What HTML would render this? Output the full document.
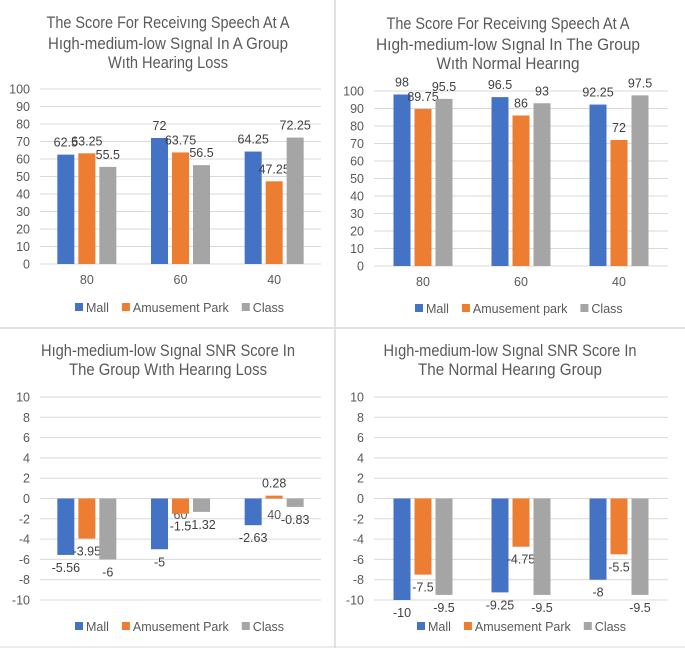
<!DOCTYPE html>
<html><head><meta charset="utf-8"><style>
html,body{margin:0;padding:0;background:#fff;}
svg{display:block;font-family:"Liberation Sans",sans-serif;}
</style></head><body>
<svg id="c" width="685" height="648" viewBox="0 0 685 648" xmlns="http://www.w3.org/2000/svg">
<rect x="0" y="0" width="685" height="648" fill="#fff"/>
<line x1="335" y1="0" x2="335" y2="648" stroke="#d9d9d9" stroke-width="1.5"/>
<line x1="0" y1="328" x2="685" y2="328" stroke="#d9d9d9" stroke-width="1.5"/>
<line x1="0" y1="647" x2="685" y2="647" stroke="#d9d9d9" stroke-width="1"/>
</svg>
<script>
const categories = ["80","60","40"];
const seriesNames1 = ["Mall","Amusement Park","Class"];
const seriesNames2 = ["Mall","Amusement park","Class"];
const yTicks1 = [0,10,20,30,40,50,60,70,80,90,100];
const yTicks2 = [-10,-8,-6,-4,-2,0,2,4,6,8,10];
const tlMall = [62.5,72,64.25];
const tlAmuse = [63.25,63.75,47.25];
const tlClass = [55.5,56.5,72.25];
const trMall = [98,96.5,92.25];
const trAmuse = [89.75,86,72];
const trClass = [95.5,93,97.5];
const blMall = [-5.56,-5,-2.63];
const blAmuse = [-3.95,-1.5,0.28];
const blClass = [-6,-1.32,-0.83];
const brMall = [-10,-9.25,-8];
const brAmuse = [-7.5,-4.75,-5.5];
const brClass = [-9.5,-9.5,-9.5];

const colors = ["#4472c4","#ed7d31","#a5a5a5"];
const NS = "http://www.w3.org/2000/svg";
const svg = document.getElementById('c');
function mk(tag, attrs, parent){const e=document.createElementNS(NS,tag);for(const k in attrs)e.setAttribute(k,attrs[k]);(parent||svg).appendChild(e);return e;}

function drawChart(cfg){
  const g = mk('g',{});
  
  
  cfg.title.forEach((t,i)=>{
    const tx = mk('text',{x:cfg.tcx,y:cfg.tys[i],'text-anchor':'middle','font-size':'17',fill:'#595959',textLength:t[1],lengthAdjust:'spacingAndGlyphs'},g);
    tx.textContent = t[0];
    
    
  });
  const vmin = cfg.ticks[0], vmax = cfg.ticks[cfg.ticks.length-1];
  const y = v => cfg.yMinPx + (v - vmin) * (cfg.yMaxPx - cfg.yMinPx) / (vmax - vmin);
  cfg.ticks.forEach(t=>{
    const ln = mk('line',{x1:cfg.x0,x2:cfg.x1,y1:y(t),y2:y(t),stroke:'#d9d9d9','stroke-width':1},g);
    
    
    const tl = mk('text',{x:cfg.x0-10,y:y(t)+4.5,'text-anchor':'end','font-size':'12.5',fill:'#595959'},g);
    tl.textContent = String(t);
    
    
  });
  const band = (cfg.x1 - cfg.x0)/categories.length;
  const cx = i => cfg.x0 + (i+0.5)*band;
  const bw = 17, off = 21;
  categories.forEach((c,i)=>{
    const cl = mk('text',{x:cx(i),y:cfg.catY,'text-anchor':'middle','font-size':'12.5',fill:'#595959'},g);
    cl.textContent = c;
    
    
  });
  cfg.series.forEach((vals,s)=>{
    vals.forEach((v,i)=>{
      const bx = cx(i) + (s-1)*off - bw/2;
      const top = Math.min(y(v), y(0)), h = Math.abs(y(v)-y(0));
      const r = mk('rect',{x:bx,y:top,width:bw,height:h,fill:colors[s]},g);
      
      
      const ly = v >= 0 ? y(v) - 8 : y(v) + 17;
      const lt = mk('text',{x:bx+bw/2,y:ly,'text-anchor':'middle','font-size':'12.5',fill:'#404040'},g);
      lt.textContent = String(v);
      
      
    });
  });
  let lx = cfg.legX;
  cfg.names.forEach((n,s)=>{
    const sq = mk('rect',{x:lx,y:cfg.legY-5,width:8,height:8,fill:colors[s]},g);
    
    
    const t = mk('text',{x:lx+11,y:cfg.legY+4,'font-size':'12.5',fill:'#595959'},g);
    t.textContent = n;
    
    
    lx += 11 + t.getComputedTextLength() + 13;
  });
}

drawChart({name:'chart-hearing-loss-score',x0:40,x1:321,yMinPx:264,yMaxPx:89,ticks:yTicks1,catY:284,
  series:[tlMall,tlAmuse,tlClass],names:seriesNames1,legX:75,legY:308,tcx:168,tys:[28,49,68],
  title:[["The Score For Receivıng Speech At A",243],["Hıgh-medium-low Sıgnal In A Group",240],["Wıth Hearing Loss",120]]});
drawChart({name:'chart-normal-hearing-score',x0:374,x1:668,yMinPx:266,yMaxPx:91,ticks:yTicks1,catY:286,
  series:[trMall,trAmuse,trClass],names:seriesNames2,legX:415,legY:309,tcx:508,tys:[29,50,69],
  title:[["The Score For Receivıng Speech At A",243],["Hıgh-medium-low Sıgnal In The Group",264],["Wıth Normal Hearıng",143]]});
drawChart({name:'chart-hearing-loss-snr',x0:40,x1:321,yMinPx:600,yMaxPx:397,ticks:yTicks2,catY:519,
  series:[blMall,blAmuse,blClass],names:seriesNames1,legX:75,legY:627,tcx:168,tys:[356,375],
  title:[["Hıgh-medium-low Sıgnal SNR Score In",254],["The Group Wıth Hearıng Loss",198]]});
drawChart({name:'chart-normal-hearing-snr',x0:374,x1:668,yMinPx:600,yMaxPx:397,ticks:yTicks2,catY:519,
  series:[brMall,brAmuse,brClass],names:seriesNames1,legX:417,legY:627,tcx:510,tys:[356,375],
  title:[["Hıgh-medium-low Sıgnal SNR Score In",253],["The Normal Hearıng Group",184]]});
</script>
</body></html>
